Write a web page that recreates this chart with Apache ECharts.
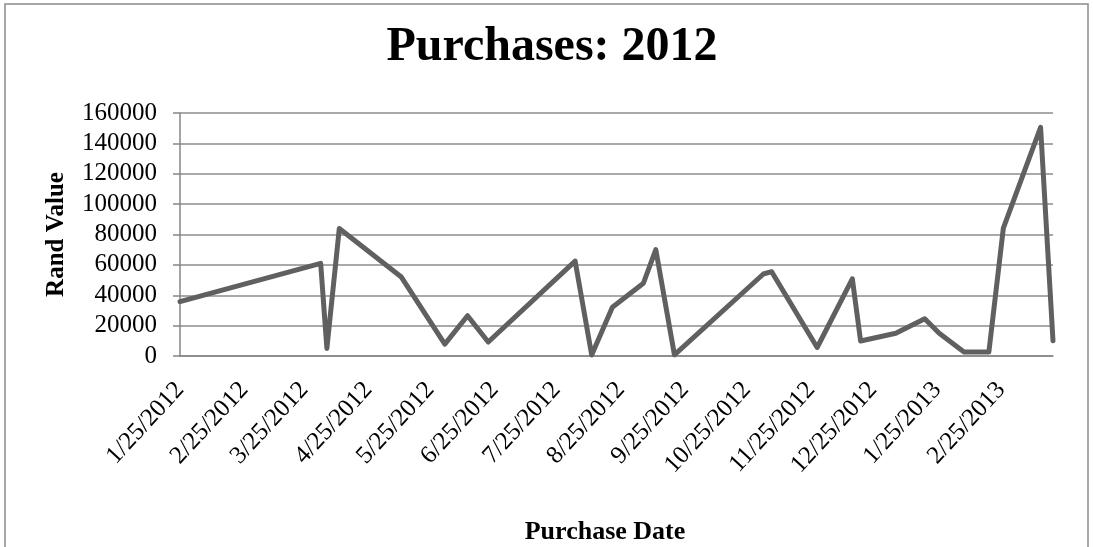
<!DOCTYPE html>
<html>
<head>
<meta charset="utf-8">
<script src="https://cdn.jsdelivr.net/npm/echarts@6/dist/echarts.min.js"></script>
<style>
  html, body { margin: 0; padding: 0; background: #fff; }
  #chart { width: 1093px; height: 547px; }
</style>
</head>
<body>
<div id="chart"></div>
<script>
// purchase dates and rand values
const purchaseDates = [
  '2012-01-25', '2012-04-02', '2012-04-05', '2012-04-11', '2012-05-11',
  '2012-06-01', '2012-06-12', '2012-06-22', '2012-08-03', '2012-08-11',
  '2012-08-21', '2012-09-05', '2012-09-11', '2012-09-20', '2012-11-02',
  '2012-11-06', '2012-11-28', '2012-12-15', '2012-12-19', '2013-01-05',
  '2013-01-19', '2013-01-26', '2013-02-07', '2013-02-19', '2013-02-26',
  '2013-03-16', '2013-03-22'
]
const randValues = [
  35800, 61000, 5000, 84000, 52000,
  7800, 26500, 9200, 62500, 700,
  32100, 47900, 70000, 800, 54000,
  55500, 5600, 50800, 9900, 15000,
  24500, 15000, 2600, 2600, 84200,
  150600, 10000
]
const dateTickLabels = [
  '1/25/2012', '2/25/2012', '3/25/2012', '4/25/2012', '5/25/2012',
  '6/25/2012', '7/25/2012', '8/25/2012', '9/25/2012', '10/25/2012',
  '11/25/2012', '12/25/2012', '1/25/2013', '2/25/2013'
]
const valueTicks = [0, 20000, 40000, 60000, 80000, 100000, 120000, 140000, 160000]

// day numbers (UTC) so the axis is a plain value scale
const dayOf = (y, m, d) => Date.UTC(y, m - 1, d) / 86400000
const isoDay = (s) => { const [y, m, d] = s.split('-').map(Number); return dayOf(y, m, d) }
const usDay = (s) => { const [m, d, y] = s.split('/').map(Number); return dayOf(y, m, d) }

const tickDays = dateTickLabels.map(usDay)
const seriesData = purchaseDates.map((d, i) => [isoDay(d), randValues[i]])

const font = "'Liberation Serif', 'Times New Roman', serif"
const axisGray = '#868686'

const chart = echarts.init(document.getElementById('chart'))
chart.setOption({
  animation: false,
  backgroundColor: '#fff',
  title: {
    text: 'Purchases: 2012',
    left: 547,
    top: 19,
    textAlign: 'center',
    textStyle: { fontFamily: font, fontSize: 48, fontWeight: 'bold', color: '#000' },
  },
  graphic: [
    {
      type: 'rect',
      shape: { x: 5, y: 4, width: 1083, height: 600 },
      style: { fill: 'none', stroke: '#8a8a8a', lineWidth: 1.5 },
      silent: true,
    },
  ],
  grid: { left: 180, right: 40, top: 113, bottom: 191 },
  xAxis: {
    type: 'value',
    min: isoDay(purchaseDates[0]),
    max: isoDay(purchaseDates[purchaseDates.length - 1]),
    name: 'Purchase Date',
    nameLocation: 'middle',
    nameGap: 163,
    nameTextStyle: {
      fontFamily: font, fontSize: 26, fontWeight: 'bold', color: '#000',
      verticalAlign: 'top', padding: [0, 23, 0, 0],
    },
    axisLine: { show: true, lineStyle: { color: axisGray, width: 1.5 } },
    axisTick: { show: false },
    splitLine: { show: false },
    axisLabel: {
      customValues: tickDays,
      rotate: 47,
      margin: 30,
      fontFamily: font,
      fontSize: 25,
      color: '#000',
      formatter: (v) => {
        const i = tickDays.indexOf(v)
        return i >= 0 ? dateTickLabels[i] : ''
      },
    },
  },
  yAxis: {
    type: 'value',
    min: valueTicks[0],
    max: valueTicks[valueTicks.length - 1],
    interval: valueTicks[1] - valueTicks[0],
    name: 'Rand Value',
    nameLocation: 'middle',
    nameRotate: 90,
    nameGap: 111,
    nameTextStyle: { fontFamily: font, fontSize: 25, fontWeight: 'bold', color: '#000' },
    axisLine: { show: true, lineStyle: { color: axisGray, width: 1.5 } },
    axisTick: { show: true, length: 7, lineStyle: { color: axisGray, width: 1.5 } },
    splitLine: { show: true, lineStyle: { color: '#8c8c8c', width: 1.5 } },
    axisLabel: {
      fontFamily: font, fontSize: 25, color: '#000', margin: 23,
      formatter: (v) => String(v),
    },
  },
  series: [
    {
      type: 'line',
      data: seriesData,
      showSymbol: false,
      symbol: 'none',
      lineStyle: { color: '#606060', width: 5, join: 'round', cap: 'round' },
    },
  ],
})
</script>
</body>
</html>
